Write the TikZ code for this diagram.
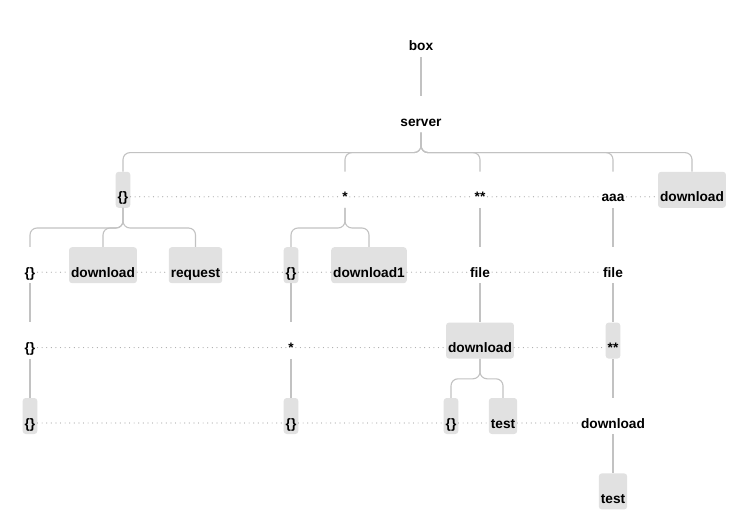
\documentclass[tikz,border=0pt]{standalone}
\usepackage{fontspec}
\setmainfont{Liberation Sans}
\definecolor{boxgray}{HTML}{E1E1E1}
\definecolor{linegray}{HTML}{C2C2C2}
\definecolor{dotgray}{HTML}{A9A9A9}
\tikzset{
  tn/.style={font=\fontsize{13.7}{16}\selectfont\bfseries, text height=30pt,
    text depth=6pt, inner xsep=2pt, inner ysep=0pt, anchor=base},
  hl/.style={tn, fill=boxgray, rounded corners=3pt},
  branch/.style={draw=linegray, line width=1.1pt, rounded corners=7pt,
    to path={(\tikztostart.south) -- ++(0,20) -| (\tikztotarget.north)}},
  chain/.style={draw=linegray, line width=1.1pt,
    to path={(\tikztostart.south) -- (\tikztotarget.north)}},
  dots/.style={draw=dotgray, line width=1.2pt, line cap=round,
    dash pattern=on 0pt off 4.6pt}
}
\begin{document}
\begin{tikzpicture}[x=1pt, y=-1pt]
      \useasboundingbox (0,0) rectangle (744,529);
      \draw
        (421,51) node[tn] (box){box}
        (421,126.4) node[tn] (server){server}
        (123,201.8) node[hl] (obj){\{\}}
        (345,201.8) node[tn] (star){*}
        (480,201.8) node[tn] (dstar){**}
        (613,201.8) node[tn] (aaa){aaa}
        (692,201.8) node[hl] (dlA){download}
        (30,277.2) node[tn] (objL){\{\}}
        (103,277.2) node[hl] (dlB){download}
        (195.5,277.2) node[hl] (req){request}
        (291,277.2) node[hl] (objM){\{\}}
        (369,277.2) node[hl] (dlC){download1}
        (480,277.2) node[tn] (fileL){file}
        (613,277.2) node[tn] (fileR){file}
        (30,352.6) node[tn] (objLb){\{\}}
        (291,352.6) node[tn] (starM){*}
        (480,352.6) node[hl] (dlD){download}
        (613,352.6) node[hl] (dstarR){**}
        (30,428) node[hl] (objLc){\{\}}
        (291,428) node[hl] (objMb){\{\}}
        (451,428) node[hl] (objR){\{\}}
        (503,428) node[hl] (testL){test}
        (613,428) node[tn] (dlE){download}
        (613,503.4) node[hl] (testR){test};
      \begin{scope}[dots]
        \draw ([yshift=5pt]obj.base east) to ([yshift=5pt]star.base west);
        \draw ([yshift=5pt]star.base east) to ([yshift=5pt]dstar.base west);
        \draw ([yshift=5pt]dstar.base east) to ([yshift=5pt]aaa.base west);
        \draw ([yshift=5pt]aaa.base east) to ([yshift=5pt]dlA.base west);
        \draw ([yshift=5pt]objL.base east) to ([yshift=5pt]dlB.base west);
        \draw ([yshift=5pt]dlB.base east) to ([yshift=5pt]req.base west);
        \draw ([yshift=5pt]req.base east) to ([yshift=5pt]objM.base west);
        \draw ([yshift=5pt]objM.base east) to ([yshift=5pt]dlC.base west);
        \draw ([yshift=5pt]dlC.base east) to ([yshift=5pt]fileL.base west);
        \draw ([yshift=5pt]fileL.base east) to ([yshift=5pt]fileR.base west);
        \draw ([yshift=5pt]objLb.base east) to ([yshift=5pt]starM.base west);
        \draw ([yshift=5pt]starM.base east) to ([yshift=5pt]dlD.base west);
        \draw ([yshift=5pt]dlD.base east) to ([yshift=5pt]dstarR.base west);
        \draw ([yshift=5pt]objLc.base east) to ([yshift=5pt]objMb.base west);
        \draw ([yshift=5pt]objMb.base east) to ([yshift=5pt]objR.base west);
        \draw ([yshift=5pt]objR.base east) to ([yshift=5pt]testL.base west);
        \draw ([yshift=5pt]testL.base east) to ([yshift=5pt]dlE.base west);
      \end{scope}
      \begin{scope}[branch]
        \draw (server) to (obj);
        \draw (server) to (star);
        \draw (server) to (dstar);
        \draw (server) to (aaa);
        \draw (server) to (dlA);
        \draw (obj) to (objL);
        \draw (obj) to (dlB);
        \draw (obj) to (req);
        \draw (star) to (objM);
        \draw (star) to (dlC);
        \draw (dlD) to (objR);
        \draw (dlD) to (testL);
      \end{scope}
      \begin{scope}[chain]
        \draw (box) to (server);
        \draw (dstar) to (fileL);
        \draw (aaa) to (fileR);
        \draw (objL) to (objLb);
        \draw (objLb) to (objLc);
        \draw (objM) to (starM);
        \draw (starM) to (objMb);
        \draw (fileL) to (dlD);
        \draw (fileR) to (dstarR);
        \draw (dstarR) to (dlE);
        \draw (dlE) to (testR);
      \end{scope}
    \end{tikzpicture}
\end{document}
